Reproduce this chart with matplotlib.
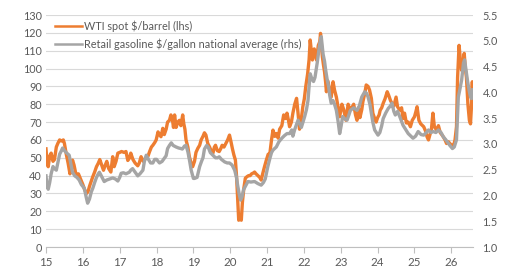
import matplotlib
matplotlib.use("Agg")
import matplotlib.pyplot as plt
from matplotlib.lines import Line2D

# WTI spot $/barrel (lhs) - decimal year, value
wti_t = [2015.00, 2015.03, 2015.06, 2015.10, 2015.14, 2015.19, 2015.23, 2015.28, 2015.32, 2015.37,
         2015.42, 2015.47, 2015.50, 2015.55, 2015.60, 2015.65, 2015.69, 2015.72, 2015.76, 2015.80,
         2015.83, 2015.88, 2015.95, 2016.00, 2016.05, 2016.10, 2016.14, 2016.18, 2016.23, 2016.27,
         2016.32, 2016.37, 2016.42, 2016.46, 2016.51, 2016.56, 2016.61, 2016.65, 2016.70, 2016.76,
         2016.81, 2016.85, 2016.90, 2016.95, 2017.00, 2017.05, 2017.12, 2017.17, 2017.22, 2017.27,
         2017.30, 2017.36, 2017.42, 2017.49, 2017.53, 2017.58, 2017.64, 2017.72, 2017.77, 2017.81,
         2017.86, 2017.90, 2017.95, 2017.99, 2018.04, 2018.08, 2018.12, 2018.17, 2018.21, 2018.26,
         2018.30, 2018.35, 2018.39, 2018.44, 2018.46, 2018.49, 2018.53, 2018.58, 2018.62, 2018.66,
         2018.71, 2018.74, 2018.77, 2018.80, 2018.85, 2018.89, 2018.94, 2018.98, 2019.03, 2019.07,
         2019.12, 2019.17, 2019.21, 2019.26, 2019.30, 2019.34, 2019.39, 2019.44, 2019.48, 2019.53,
         2019.57, 2019.60, 2019.65, 2019.70, 2019.74, 2019.78, 2019.83, 2019.88, 2019.93, 2019.98,
         2020.02, 2020.06, 2020.10, 2020.14, 2020.17, 2020.20, 2020.23, 2020.26, 2020.30, 2020.33,
         2020.37, 2020.41, 2020.46, 2020.50, 2020.54, 2020.58, 2020.63, 2020.66, 2020.70, 2020.75,
         2020.80, 2020.84, 2020.88, 2020.93, 2020.98, 2021.03, 2021.07, 2021.12, 2021.16, 2021.21,
         2021.25, 2021.30, 2021.34, 2021.40, 2021.45, 2021.50, 2021.54, 2021.58, 2021.61, 2021.66,
         2021.70, 2021.75, 2021.80, 2021.84, 2021.88, 2021.93, 2021.97, 2022.01, 2022.05, 2022.10,
         2022.14, 2022.17, 2022.20, 2022.23, 2022.28, 2022.34, 2022.39, 2022.43, 2022.45, 2022.48,
         2022.50, 2022.53, 2022.56, 2022.59, 2022.61, 2022.65, 2022.70, 2022.74, 2022.79, 2022.83,
         2022.88, 2022.93, 2022.97, 2023.03, 2023.08, 2023.14, 2023.20, 2023.25, 2023.30, 2023.35,
         2023.40, 2023.44, 2023.48, 2023.52, 2023.57, 2023.60, 2023.65, 2023.69, 2023.74, 2023.78,
         2023.83, 2023.87, 2023.92, 2023.96, 2024.00, 2024.04, 2024.07, 2024.11, 2024.15, 2024.20,
         2024.26, 2024.30, 2024.35, 2024.39, 2024.44, 2024.50, 2024.54, 2024.60, 2024.65, 2024.69,
         2024.73, 2024.78, 2024.83, 2024.89, 2024.94, 2025.00, 2025.04, 2025.07, 2025.12, 2025.17,
         2025.25, 2025.30, 2025.34, 2025.38, 2025.42, 2025.46, 2025.50, 2025.54, 2025.60, 2025.65,
         2025.70, 2025.74, 2025.78, 2025.83, 2025.87, 2025.92, 2025.96, 2026.01, 2026.05, 2026.10,
         2026.14, 2026.17, 2026.21, 2026.25, 2026.28, 2026.32, 2026.35, 2026.38, 2026.41, 2026.45,
         2026.49, 2026.52, 2026.55, 2026.57, 2026.58]
wti_v = [55, 47, 45, 51, 52.6, 48, 49, 56, 58, 60,
         59.4, 60, 58, 52, 47, 41, 44, 48.7, 46, 42,
         40, 41, 37.5, 35, 32, 30, 31, 34, 37, 39.4,
         42, 45, 47, 49, 46, 43, 46, 48, 44, 42,
         50.6, 45, 48, 52.6, 53, 53.5, 53, 53.5, 48.5, 50,
         52.6, 49, 47, 45.5, 47, 50.6, 48, 50, 51, 53.4,
         56, 57, 58.5, 60, 64.5, 63, 61.8, 66.5, 63, 66,
         70, 71, 74, 70, 67, 74, 67, 70, 71, 68,
         74, 69, 66, 60, 56, 50.6, 47, 45, 48, 53,
         55.3, 57, 60, 62, 64, 62.7, 58, 56, 54, 52.6,
         56, 57, 54, 53.5, 55, 57, 56, 58, 60, 62.7,
         59, 55, 51.5, 48.7, 40, 28, 15, 18, 15, 25,
         33, 38.6, 39.5, 40, 40, 41, 41.5, 42, 41, 40,
         39, 37.5, 41, 45, 48.7, 52, 51.5, 60, 65.5, 62,
         63.6, 61, 66, 68, 74, 72, 75, 71, 67.4, 70,
         75, 80, 83.3, 75, 66, 72, 78.6, 83, 90, 97,
         105, 116, 110, 104.8, 111, 104.8, 113, 115, 119.7, 112,
         106.6, 102, 98, 92, 87, 93, 88, 84, 92.6, 88,
         84, 78, 73, 80, 77, 71, 80, 76.7, 78, 80,
         74, 71, 78, 72.5, 77, 81.4, 86, 90.8, 90, 88,
         83.3, 75, 72, 70, 72.5, 74, 76.7, 78, 80.5, 83,
         87, 85, 82, 80.5, 79, 84, 78.6, 76.7, 78, 72,
         75, 69.5, 70, 67.4, 71, 73, 76, 78.6, 71, 69,
         67.4, 65, 61.8, 60, 63, 66, 75, 67.4, 65.5, 68,
         64, 63, 61.8, 60, 58, 59, 58, 57, 56, 60,
         67.4, 95, 113, 104, 99, 104, 108.5, 100, 95, 80,
         71, 69, 80, 92.6, 84]

# Retail gasoline $/gallon national average (rhs)
gas_t = [2015.00, 2015.03, 2015.06, 2015.10, 2015.14, 2015.19, 2015.23, 2015.28, 2015.32, 2015.37,
         2015.42, 2015.45, 2015.50, 2015.55, 2015.60, 2015.63, 2015.68, 2015.72, 2015.78, 2015.84,
         2015.90, 2015.96, 2016.04, 2016.09, 2016.13, 2016.18, 2016.23, 2016.27, 2016.32, 2016.37,
         2016.42, 2016.45, 2016.50, 2016.54, 2016.58, 2016.65, 2016.73, 2016.81, 2016.88, 2016.95,
         2017.00, 2017.04, 2017.10, 2017.17, 2017.26, 2017.30, 2017.35, 2017.42, 2017.49, 2017.55,
         2017.63, 2017.67, 2017.72, 2017.78, 2017.84, 2017.90, 2017.95, 2018.00, 2018.08, 2018.15,
         2018.22, 2018.26, 2018.30, 2018.35, 2018.40, 2018.45, 2018.53, 2018.60, 2018.66, 2018.70,
         2018.76, 2018.80, 2018.85, 2018.90, 2018.94, 2019.00, 2019.03, 2019.10, 2019.17, 2019.22,
         2019.26, 2019.30, 2019.36, 2019.40, 2019.46, 2019.53, 2019.60, 2019.66, 2019.70, 2019.76,
         2019.85, 2019.92, 2019.98, 2020.05, 2020.12, 2020.17, 2020.20, 2020.25, 2020.28, 2020.32,
         2020.36, 2020.42, 2020.48, 2020.56, 2020.66, 2020.75, 2020.84, 2020.90, 2020.95, 2021.02,
         2021.08, 2021.12, 2021.16, 2021.25, 2021.32, 2021.40, 2021.47, 2021.54, 2021.61, 2021.67,
         2021.70, 2021.75, 2021.84, 2021.93, 2022.02, 2022.07, 2022.11, 2022.14, 2022.17, 2022.22,
         2022.26, 2022.30, 2022.36, 2022.43, 2022.47, 2022.52, 2022.56, 2022.59, 2022.63, 2022.67,
         2022.70, 2022.74, 2022.79, 2022.83, 2022.88, 2022.93, 2022.97, 2023.01, 2023.05, 2023.10,
         2023.17, 2023.22, 2023.26, 2023.35, 2023.44, 2023.50, 2023.57, 2023.65, 2023.70, 2023.74,
         2023.79, 2023.83, 2023.87, 2023.92, 2024.01, 2024.06, 2024.11, 2024.15, 2024.22, 2024.29,
         2024.34, 2024.39, 2024.44, 2024.48, 2024.54, 2024.60, 2024.69, 2024.76, 2024.83, 2024.90,
         2024.96, 2025.03, 2025.10, 2025.18, 2025.25, 2025.32, 2025.38, 2025.45, 2025.51, 2025.58,
         2025.65, 2025.72, 2025.78, 2025.85, 2025.92, 2025.96, 2026.03, 2026.08, 2026.14, 2026.19,
         2026.23, 2026.28, 2026.33, 2026.36, 2026.40, 2026.44, 2026.48, 2026.52, 2026.55, 2026.58]
gas_v = [2.38, 2.18, 2.12, 2.25, 2.42, 2.56, 2.52, 2.49, 2.63, 2.80,
         2.87, 2.92, 2.87, 2.83, 2.80, 2.78, 2.59, 2.45, 2.38, 2.35,
         2.30, 2.21, 2.14, 1.97, 1.85, 1.93, 2.07, 2.14, 2.25, 2.35,
         2.42, 2.45, 2.38, 2.32, 2.27, 2.30, 2.32, 2.34, 2.32, 2.28,
         2.35, 2.43, 2.44, 2.42, 2.45, 2.49, 2.52, 2.45, 2.38, 2.42,
         2.49, 2.66, 2.78, 2.70, 2.63, 2.63, 2.70, 2.70, 2.63, 2.66,
         2.73, 2.77, 2.91, 2.97, 3.02, 2.97, 2.94, 2.92, 2.91, 2.90,
         2.96, 2.97, 2.85, 2.66, 2.49, 2.33, 2.33, 2.35, 2.56, 2.66,
         2.73, 2.90, 2.97, 2.94, 2.83, 2.78, 2.73, 2.73, 2.75, 2.70,
         2.65, 2.63, 2.63, 2.59, 2.49, 2.35, 2.20, 2.00, 1.91, 1.97,
         2.11, 2.19, 2.27, 2.26, 2.27, 2.23, 2.20, 2.25, 2.32, 2.56,
         2.73, 2.83, 2.88, 2.94, 3.04, 3.11, 3.16, 3.20, 3.20, 3.27,
         3.15, 3.28, 3.46, 3.32, 3.53, 3.67, 3.84, 4.12, 4.36, 4.25,
         4.21, 4.29, 4.57, 4.95, 5.08, 4.74, 4.60, 4.43, 4.25, 4.11,
         3.94, 3.79, 3.84, 3.77, 3.65, 3.42, 3.20, 3.35, 3.53, 3.49,
         3.46, 3.56, 3.65, 3.70, 3.65, 3.73, 3.91, 4.01, 3.98, 3.91,
         3.77, 3.60, 3.42, 3.27, 3.17, 3.22, 3.35, 3.49, 3.60, 3.69,
         3.73, 3.79, 3.63, 3.56, 3.63, 3.53, 3.36, 3.28, 3.20, 3.15,
         3.11, 3.15, 3.24, 3.18, 3.17, 3.22, 3.27, 3.22, 3.24, 3.22,
         3.27, 3.22, 3.14, 3.08, 3.01, 2.97, 2.91, 2.94, 3.08, 3.91,
         4.05, 4.24, 4.57, 4.63, 4.43, 4.22, 4.05, 3.91, 3.88, 4.05]

year_ticks = [2015, 2016, 2017, 2018, 2019, 2020, 2021, 2022, 2023, 2024, 2025, 2026]
year_labels = ["15", "16", "17", "18", "19", "20", "21", "22", "23", "24", "25", "26"]
left_ticks = list(range(0, 131, 10))
right_ticks = [1.0, 1.5, 2.0, 2.5, 3.0, 3.5, 4.0, 4.5, 5.0, 5.5]

plt.rcParams['font.family'] = ['Lato', 'DejaVu Sans']
ORANGE = "#ED7D31"
GRAY = "#A5A5A5"
TXT = "#595959"
GRID = "#D9D9D9"

fig = plt.figure(figsize=(5.12, 2.74), dpi=100)
ax = fig.add_axes([46/512, 1-247/274, (472.7-46)/512, (247-15)/274])
ax2 = ax.twinx()

ax.plot(wti_t, wti_v, color=ORANGE, lw=2.4, solid_joinstyle='round')
ax2.plot(gas_t, gas_v, color=GRAY, lw=2.4, solid_joinstyle='round')

ax.set_xlim(2015, 2026.58)
ax.set_ylim(0, 130)
ax2.set_ylim(1.0, 5.5)
ax.set_yticks(left_ticks)
ax.set_yticklabels([str(v) for v in left_ticks])
ax2.set_yticks(right_ticks)
ax2.set_yticklabels([f"{v:.1f}" for v in right_ticks])
ax.set_xticks(year_ticks)
ax.set_xticklabels(year_labels)

ax.grid(axis='y', color=GRID, lw=0.8)
ax.set_axisbelow(True)
for a in (ax, ax2):
    for s in ('top', 'left', 'right', 'bottom'):
        a.spines[s].set_visible(False)
ax.spines['bottom'].set_visible(True)
ax.spines['bottom'].set_color("#BFBFBF")
ax.spines['bottom'].set_linewidth(0.8)

ax.tick_params(axis='y', length=0, labelsize=7.8, labelcolor=TXT, pad=3)
ax2.tick_params(axis='y', length=0, labelsize=7.8, labelcolor=TXT, pad=7)
ax.tick_params(axis='x', length=4, width=0.8, color="#BFBFBF", labelsize=8.3, labelcolor=TXT, pad=3)

handles = [Line2D([0], [0], color=ORANGE, lw=1.8),
           Line2D([0], [0], color=GRAY, lw=1.8)]
labels = ["WTI spot $/barrel (lhs)", "Retail gasoline $/gallon national average (rhs)"]
leg = ax2.legend(handles, labels, loc='upper left', bbox_to_anchor=(0.021, 0.976),
                 frameon=False, fontsize=7.8, handlelength=2.5, handletextpad=0.15,
                 labelspacing=0.6, borderaxespad=0, borderpad=0)
for t in leg.get_texts():
    t.set_color(TXT)

fig.savefig("out.png", dpi=100)
